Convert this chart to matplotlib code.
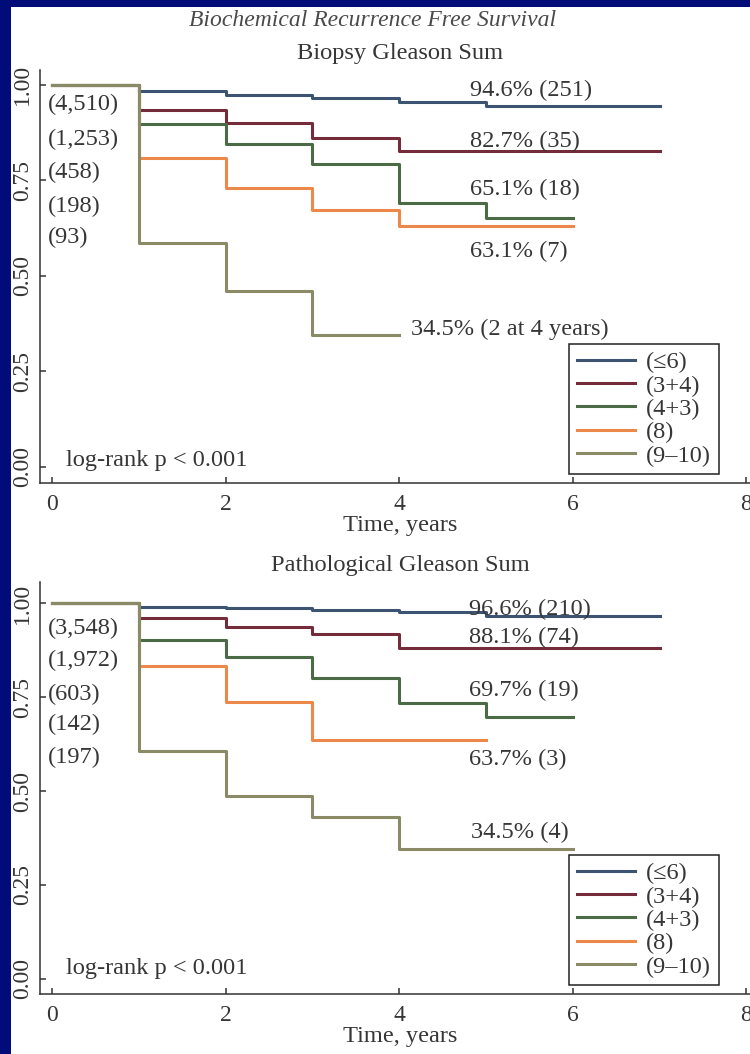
import matplotlib
matplotlib.use("Agg")
import matplotlib.pyplot as plt
from matplotlib.patches import Rectangle

plt.rcParams['font.family'] = ['Liberation Serif', 'DejaVu Serif']

# group names and colours
groups = ['(≤6)', '(3+4)', '(4+3)', '(8)', '(9–10)']
colors = ['#3c5372', '#742c3a', '#4b6b47', '#ec884a', '#8a8a66']

# biopsy gleason sum - step curves (time, survival)
bio_t = [[0, 1, 2, 3, 4, 5, 7],
         [0, 1, 2, 3, 4, 7],
         [0, 1, 2, 3, 4, 5, 6],
         [0, 1, 2, 3, 4, 6],
         [0, 1, 2, 3, 4]]
bio_s = [[1.0, 0.985, 0.974, 0.965, 0.954, 0.946, 0.946],
         [1.0, 0.935, 0.900, 0.860, 0.827, 0.827],
         [1.0, 0.897, 0.846, 0.793, 0.690, 0.651, 0.651],
         [1.0, 0.808, 0.730, 0.673, 0.631, 0.631],
         [1.0, 0.587, 0.461, 0.345, 0.345]]
bio_n = ['(4,510)', '(1,253)', '(458)', '(198)', '(93)']
bio_notes = ['94.6% (251)', '82.7% (35)', '65.1% (18)', '63.1% (7)', '34.5% (2 at 4 years)']

# pathological gleason sum
path_t = [[0, 1, 2, 3, 4, 5, 7],
          [0, 1, 2, 3, 4, 7],
          [0, 1, 2, 3, 4, 5, 6],
          [0, 1, 2, 3, 5],
          [0, 1, 2, 3, 4, 6]]
path_s = [[1.0, 0.990, 0.987, 0.981, 0.976, 0.966, 0.966],
          [1.0, 0.960, 0.937, 0.917, 0.881, 0.881],
          [1.0, 0.901, 0.857, 0.801, 0.735, 0.697, 0.697],
          [1.0, 0.832, 0.737, 0.637, 0.637],
          [1.0, 0.606, 0.486, 0.432, 0.345, 0.345]]
path_n = ['(3,548)', '(1,972)', '(603)', '(142)', '(197)']
path_notes = ['96.6% (210)', '88.1% (74)', '69.7% (19)', '63.7% (3)', '34.5% (4)']

txt = '#363636'
fs = 17.6

fig = plt.figure(figsize=(7.5, 10.54), dpi=100)
fig.patch.set_facecolor('#020c78')
fig.add_artist(Rectangle((11 / 750, 0), 1, (1054 - 7) / 1054, transform=fig.transFigure,
                         facecolor='white', edgecolor='none', zorder=0))


def panel(ax, times, surv, nrisk, notes, note_xy, n_y, ylims, title):
    for i in range(len(groups)):
        ax.step(times[i], surv[i], where='post', color=colors[i], lw=2.2, label=groups[i])
    ax.set_xlim(-0.138, 8.157)
    ax.set_ylim(ylims)
    ax.set_facecolor('none')
    for s in ['top', 'right']:
        ax.spines[s].set_visible(False)
    for s in ['left', 'bottom']:
        ax.spines[s].set_color('#333333')
        ax.spines[s].set_linewidth(1.1)
    ax.set_xticks([0, 2, 4, 6, 8])
    ax.set_yticks([0, 0.25, 0.5, 0.75, 1.0])
    ax.set_yticklabels(['0.00', '0.25', '0.50', '0.75', '1.00'])
    ax.tick_params(direction='in', length=4, width=1.1, color='#333333',
                   labelsize=fs - 0.6, labelcolor=txt)
    ax.tick_params(axis='x', pad=8)
    ax.tick_params(axis='y', labelrotation=90, pad=5)
    for lab in ax.get_yticklabels():
        lab.set_va('center')
    ax.set_xlabel('Time, years', fontsize=fs, color=txt, labelpad=0)
    ax.set_title(title, fontsize=fs, color=txt, pad=8)
    for i in range(len(nrisk)):
        ax.text(-0.05, n_y[i], nrisk[i], fontsize=fs, color=txt, va='center', ha='left')
    for i in range(len(notes)):
        ax.text(note_xy[i][0], note_xy[i][1], notes[i], fontsize=fs, color=txt,
                va='center', ha='left')
    ax.text(0.16, note_xy[5], 'log-rank p < 0.001', fontsize=fs, color=txt,
            va='center', ha='left')
    leg = ax.legend(loc='lower left', bbox_to_anchor=(0.735, 0.022), fontsize=fs,
                    frameon=True, fancybox=False, framealpha=1, edgecolor='#222222',
                    handlelength=2.4, handletextpad=0.45, labelspacing=0.05,
                    borderpad=0.3, borderaxespad=0)
    leg.get_frame().set_linewidth(1.1)
    for t in leg.get_texts():
        t.set_color(txt)


ax1 = fig.add_axes([40 / 750, (1054 - 483) / 1054, 720 / 750, 413 / 1054])
panel(ax1, bio_t, bio_s, bio_n, bio_notes,
      [(4.82, 0.986), (4.82, 0.853), (4.82, 0.727), (4.82, 0.563), (4.14, 0.361), 0.018],
      [0.948, 0.856, 0.770, 0.683, 0.602], (-0.0419, 1.039), 'Biopsy Gleason Sum')
fig.text(373 / 750, 1 - 21 / 1054, 'Biochemical Recurrence Free Survival', fontsize=fs - 0.6,
         style='italic', color='#4a4a4a', ha='center', va='center')

ax2 = fig.add_axes([40 / 750, (1054 - 994) / 1054, 720 / 750, 412 / 1054])
panel(ax2, path_t, path_s, path_n, path_notes,
      [(4.8, 0.983), (4.8, 0.909), (4.8, 0.768), (4.8, 0.585), (4.83, 0.390), 0.028],
      [0.933, 0.846, 0.758, 0.678, 0.590], (-0.040, 1.056), 'Pathological Gleason Sum')

fig.savefig('out.png', dpi=100, facecolor=fig.get_facecolor())
